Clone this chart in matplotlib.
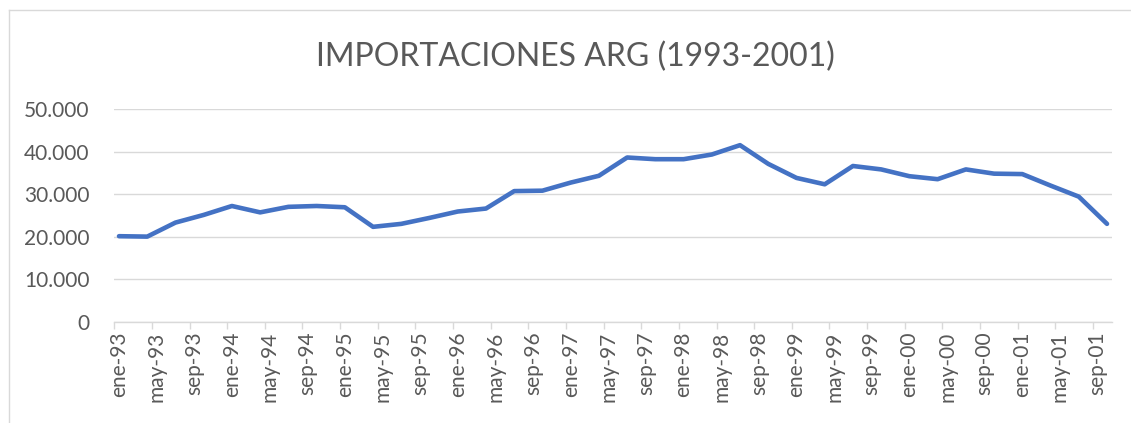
import matplotlib
matplotlib.use("Agg")
import matplotlib.pyplot as plt
from matplotlib.lines import Line2D
import pandas as pd

# ---- data ----
title = "IMPORTACIONES ARG (1993-2001)"
dates = pd.date_range("1993-01-01", "2001-10-01", freq="QS")
values = [20100, 20000, 23300, 25100, 27200, 25700, 27000, 27200, 26900, 22300,
          23000, 24400, 25900, 26600, 30700, 30800, 32700, 34300, 38600, 38200,
          38200, 39300, 41500, 37100, 33800, 32300, 36600, 35800, 34200, 33500,
          35800, 34800, 34700, 32000, 29400, 23000]
month_names = ["ene", "feb", "mar", "abr", "may", "jun", "jul", "ago", "sep", "oct", "nov", "dic"]
y_ticks = [0, 10000, 20000, 30000, 40000, 50000]
y_labels = ["0", "10.000", "20.000", "30.000", "40.000", "50.000"]

# ---- helpers ----
start = dates[0]
def month_index(d):
    return (d.year - start.year) * 12 + (d.month - start.month)

x = [month_index(d) + 0.5 for d in dates]
n_months = month_index(dates[-1]) + 1
label_months = list(range(0, n_months, 4))
label_text = []
for m in label_months:
    yr = start.year + (start.month - 1 + m) // 12
    mo = (start.month - 1 + m) % 12
    label_text.append(f"{month_names[mo]}-{yr % 100:02d}")

W, H = 1131, 423
fig = plt.figure(figsize=(W / 100, H / 100), dpi=100)
plt.rcParams["font.family"] = ["Lato", "DejaVu Sans"]

ax = fig.add_axes([114.3 / W, 1 - 321.7 / H, (1111.7 - 114.3) / W, (321.7 - 109) / H])

grid_c = "#d9d9d9"
text_c = "#595959"

ax.plot(x, values, color="#4472C4", linewidth=3.3, solid_capstyle="round",
        solid_joinstyle="round", zorder=3)

ax.set_xlim(0, n_months)
ax.set_ylim(0, 50000)
ax.set_yticks(y_ticks)
ax.set_yticklabels(y_labels)
ax.tick_params(axis="y", length=0, pad=18, labelsize=15, labelcolor=text_c)
ax.yaxis.grid(True, color=grid_c, linewidth=1.0)
ax.set_axisbelow(True)

ax.set_xticks([m + 0.5 for m in label_months])
ax.set_xticklabels(label_text, rotation=90, va="top", ha="center")
ax.tick_params(axis="x", which="major", length=0, pad=7, labelsize=15, labelcolor=text_c)
ax.set_xticks(label_months, minor=True)
ax.tick_params(axis="x", which="minor", length=5, width=1.0, color=grid_c)

for s in ["left", "right", "top"]:
    ax.spines[s].set_visible(False)
ax.spines["bottom"].set_color(grid_c)
ax.spines["bottom"].set_linewidth(1.0)

fig.text(575 / W, 1 - 57 / H, title, ha="center", va="center", fontsize=23, color=text_c)

# chart area frame (left and top edges visible)
fig.add_artist(Line2D([8.5 / W, 8.5 / W], [0, 1 - 10.5 / H], color=grid_c, linewidth=1.0,
                      transform=fig.transFigure))
fig.add_artist(Line2D([8.5 / W, 1], [1 - 10.5 / H, 1 - 10.5 / H], color=grid_c, linewidth=1.0,
                      transform=fig.transFigure))

fig.savefig("out.png", dpi=100)
